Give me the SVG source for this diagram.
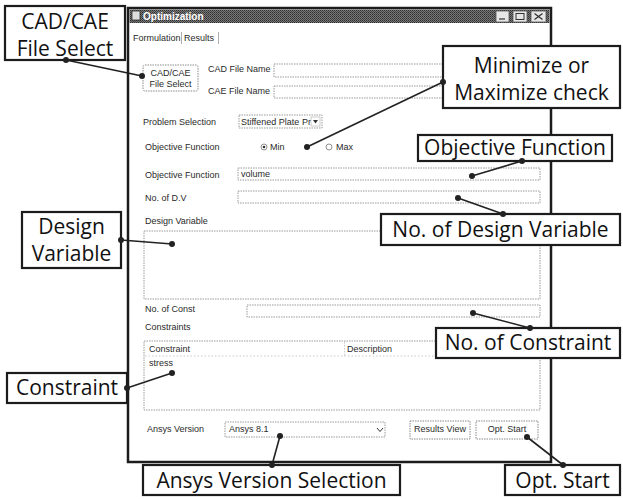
<svg xmlns="http://www.w3.org/2000/svg" width="623" height="499" viewBox="0 0 623 499">
  <defs>
    <pattern id="dither" width="2" height="2" patternUnits="userSpaceOnUse">
      <rect width="2" height="2" fill="#7a7a7a"/>
      <rect width="1" height="1" fill="#2e2e2e"/>
      <rect x="1" y="1" width="1" height="1" fill="#444"/>
    </pattern>
    <style>
      .ui{font-family:"Liberation Sans",Arial,sans-serif;font-size:9px;fill:#2a2a2a}
      .uic{font-family:"Liberation Sans",Arial,sans-serif;font-size:9px;fill:#2a2a2a;text-anchor:middle}
      .field{fill:none;stroke:#9a9a9a;stroke-width:1;stroke-dasharray:1.5 1}
      .btn{fill:#fff;stroke:#8a8a8a;stroke-width:1;stroke-dasharray:1.5 1}
      .callout rect{fill:#fff;stroke:#1c1c1c;stroke-width:2.2}
      .callout text{font-family:"Open Sans","Noto Sans",sans-serif;font-size:21px;fill:#111;text-anchor:middle}
      .wire{stroke:#222;stroke-width:1.6;fill:none}
      .pin{fill:#222}
      .tb{fill:#e6e6e6;stroke:#555;stroke-width:0.8}
    </style>
  </defs>

  <rect width="623" height="499" fill="#fff"/>

  <!-- dialog window -->
  <g id="window">
    <rect x="128" y="8" width="423" height="454" fill="#fff" stroke="#1c1c1c" stroke-width="2.5"/>
    <rect x="129.5" y="9.5" width="420" height="13.5" fill="url(#dither)"/>
    <rect x="132" y="11" width="8" height="9" fill="#ddd" stroke="#333" stroke-width="0.8"/>
    <text x="143" y="20" font-family="Liberation Sans, Arial, sans-serif" font-weight="bold" font-size="10" fill="#fff">Optimization</text>
    <rect class="tb" x="496" y="11" width="13" height="11"/>
    <line x1="499" y1="19" x2="505" y2="19" stroke="#333" stroke-width="1.2"/>
    <rect class="tb" x="513" y="11" width="14" height="11"/>
    <rect x="516" y="13.5" width="8" height="6" fill="none" stroke="#333" stroke-width="1"/>
    <rect class="tb" x="531" y="11" width="15" height="11"/>
    <path d="M534.5 13.5 L542.5 19.5 M542.5 13.5 L534.5 19.5" stroke="#333" stroke-width="1.3"/>

    <!-- tabs -->
    <text class="ui" x="133" y="41">Formulation</text>
    <line x1="181.5" y1="32" x2="181.5" y2="44" stroke="#999" stroke-width="0.8"/>
    <text class="ui" x="184" y="41">Results</text>
    <line x1="218.5" y1="32" x2="218.5" y2="44" stroke="#999" stroke-width="0.8"/>

    <!-- file selection -->
    <rect class="btn" x="143" y="65" width="55" height="26" rx="2"/>
    <text class="uic" x="170.5" y="76">CAD/CAE</text>
    <text class="uic" x="170.5" y="87">File Select</text>
    <text class="ui" x="208" y="72">CAD File Name</text>
    <rect class="field" x="274" y="64" width="266" height="13"/>
    <text class="ui" x="208" y="94">CAE File Name</text>
    <rect class="field" x="274" y="86" width="266" height="12"/>

    <!-- problem selection -->
    <text class="ui" x="143" y="125">Problem Selection</text>
    <rect class="field" x="239" y="115" width="83" height="13"/>
    <text class="ui" x="241" y="125" font-size="8">Stiffened Plate Pr</text>
    <rect x="311" y="117" width="9" height="9" fill="#fff" stroke="#aaa" stroke-width="0.6"/>
    <path d="M313 120 L318 120 L315.5 123.5 Z" fill="#333"/>

    <!-- objective sense -->
    <text class="ui" x="145" y="150">Objective Function</text>
    <circle cx="264" cy="147" r="3" fill="#fff" stroke="#777" stroke-width="0.8"/>
    <circle cx="264" cy="147" r="1.3" fill="#333"/>
    <text class="ui" x="270" y="150">Min</text>
    <circle cx="329" cy="147" r="3" fill="#fff" stroke="#777" stroke-width="0.8"/>
    <text class="ui" x="336" y="150">Max</text>

    <!-- objective / design variables -->
    <text class="ui" x="145" y="178">Objective Function</text>
    <rect class="field" x="238" y="168" width="302" height="12"/>
    <text class="ui" x="241" y="177">volume</text>
    <text class="ui" x="145" y="201">No. of D.V</text>
    <rect class="field" x="238" y="191" width="302" height="12"/>
    <text class="ui" x="145" y="224">Design Variable</text>
    <rect class="field" x="144" y="231" width="396" height="68"/>

    <!-- constraints -->
    <text class="ui" x="145" y="312">No. of Const</text>
    <rect class="field" x="247" y="305" width="293" height="12"/>
    <text class="ui" x="145" y="330">Constraints</text>
    <rect class="field" x="144" y="341" width="396" height="69"/>
    <text class="ui" x="149" y="352">Constraint</text>
    <line x1="344.5" y1="342" x2="344.5" y2="356" stroke="#bbb" stroke-width="0.8" stroke-dasharray="1.5 1.5"/>
    <text class="ui" x="347" y="352">Description</text>
    <line x1="145" y1="356" x2="540" y2="356" stroke="#bbb" stroke-width="0.8" stroke-dasharray="1.5 2"/>
    <text class="ui" x="149" y="366">stress</text>

    <!-- bottom row -->
    <text class="ui" x="147" y="432">Ansys Version</text>
    <rect class="field" x="225" y="422" width="160" height="15"/>
    <text class="ui" x="229" y="432">Ansys 8.1</text>
    <path d="M377 428 L380 431.5 L383 428" fill="none" stroke="#333" stroke-width="1"/>
    <rect class="btn" x="410" y="421" width="60" height="18"/>
    <text class="uic" x="440" y="432">Results View</text>
    <rect class="btn" x="476" y="421" width="62" height="18"/>
    <text class="uic" x="507" y="432">Opt. Start</text>
  </g>

  <!-- callout labels -->
  <g id="lbl-file-select" class="callout">
    <rect x="5" y="6" width="120" height="54"/>
    <text x="65" y="29" font-size="20">CAD/CAE</text>
    <text x="65" y="56" font-size="20">File Select</text>
  </g>
  <g id="lbl-minmax" class="callout">
    <rect x="443" y="46" width="177" height="62"/>
    <text x="531.5" y="73">Minimize or</text>
    <text x="531.5" y="100">Maximize check</text>
  </g>
  <g id="lbl-objective" class="callout">
    <rect x="418" y="135" width="194" height="26"/>
    <text x="515" y="155">Objective Function</text>
  </g>
  <g id="lbl-design-variable" class="callout">
    <rect x="22" y="212" width="99" height="56"/>
    <text x="71.5" y="234">Design</text>
    <text x="71.5" y="261">Variable</text>
  </g>
  <g id="lbl-num-dv" class="callout">
    <rect x="381" y="214" width="239" height="31"/>
    <text x="500.5" y="237">No. of Design Variable</text>
  </g>
  <g id="lbl-num-const" class="callout">
    <rect x="436" y="328" width="184" height="30"/>
    <text x="528" y="350">No. of Constraint</text>
  </g>
  <g id="lbl-constraint" class="callout">
    <rect x="7" y="373" width="120" height="30"/>
    <text x="67" y="395">Constraint</text>
  </g>
  <g id="lbl-ansys" class="callout">
    <rect x="143" y="465" width="257" height="30"/>
    <text x="271.5" y="488">Ansys Version Selection</text>
  </g>
  <g id="lbl-opt-start" class="callout">
    <rect x="505" y="465" width="115" height="30"/>
    <text x="562.5" y="488">Opt. Start</text>
  </g>

  <!-- leader lines -->
  <g id="connectors">
    <line class="wire" x1="66" y1="60" x2="142" y2="76"/>
    <line class="wire" x1="443" y1="82" x2="307" y2="147"/>
    <line class="wire" x1="522" y1="161" x2="472" y2="176"/>
    <line class="wire" x1="503" y1="214" x2="458" y2="198"/>
    <line class="wire" x1="121" y1="240" x2="172" y2="244"/>
    <line class="wire" x1="530" y1="328" x2="473" y2="313"/>
    <line class="wire" x1="127" y1="388" x2="172" y2="373"/>
    <line class="wire" x1="272" y1="465" x2="280" y2="436"/>
    <line class="wire" x1="563" y1="465" x2="527" y2="437"/>
    <g class="pin">
      <circle cx="66" cy="60" r="3"/><circle cx="142" cy="76" r="3"/>
      <circle cx="443" cy="82" r="3"/><circle cx="307" cy="147" r="3"/>
      <circle cx="522" cy="161" r="3"/><circle cx="472" cy="176" r="3"/>
      <circle cx="503" cy="214" r="3"/><circle cx="458" cy="198" r="3"/>
      <circle cx="121" cy="240" r="3"/><circle cx="172" cy="244" r="3"/>
      <circle cx="530" cy="328" r="3"/><circle cx="473" cy="313" r="3"/>
      <circle cx="127" cy="388" r="3"/><circle cx="172" cy="373" r="3"/>
      <circle cx="272" cy="465" r="3"/><circle cx="280" cy="436" r="3"/>
      <circle cx="563" cy="465" r="3"/><circle cx="527" cy="437" r="3"/>
    </g>
  </g>
</svg>
